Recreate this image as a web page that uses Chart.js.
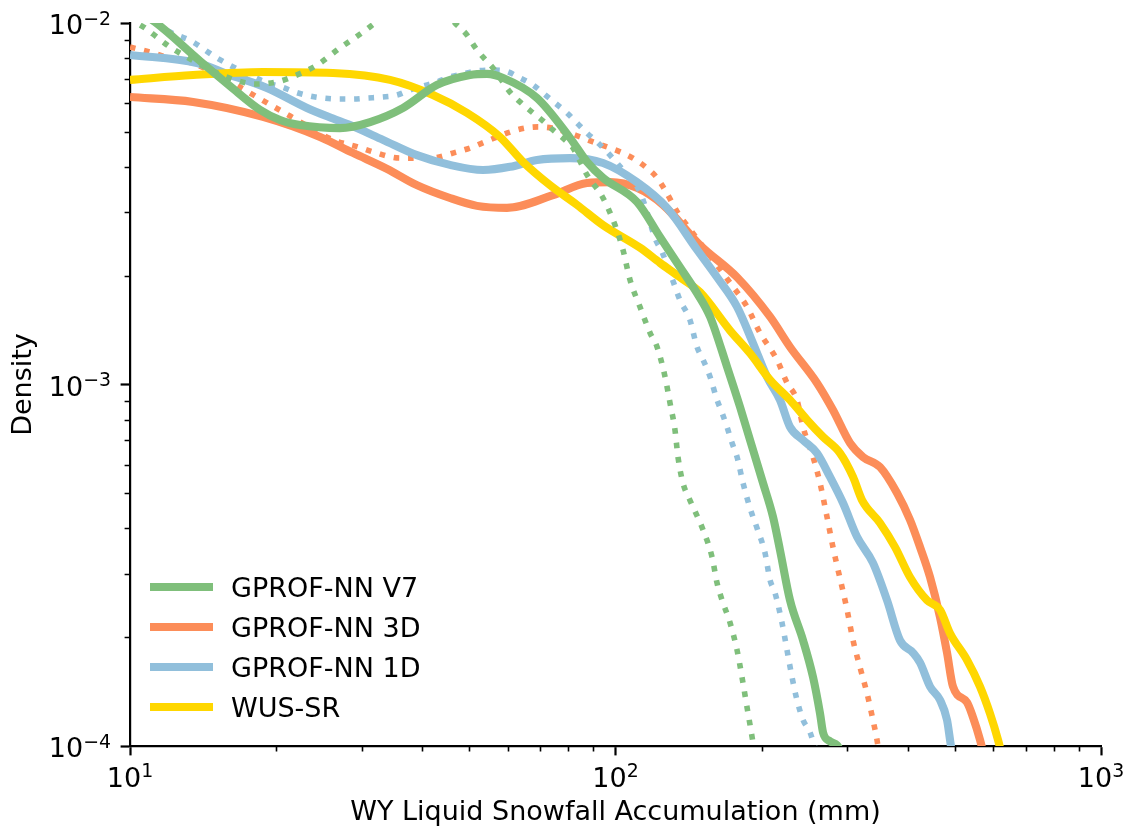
<!DOCTYPE html>
<html>
<head>
<meta charset="utf-8">
<script src="https://cdn.jsdelivr.net/npm/chart.js@4.4.1/dist/chart.umd.min.js"></script>
<style>
  html, body { margin: 0; padding: 0; background: #ffffff; }
  #plot { display: block; }
</style>
</head>
<body>
<canvas id="plot" width="1126" height="829"></canvas>
<script>
// Water-year liquid snowfall accumulation (mm) vs. kernel density estimate.
// Solid lines: all-season products; dotted lines: companion estimates of the same product.

const v7Accum = [10.0, 11.26, 13.94, 16.07, 18.53, 20.37, 22.39, 27.07, 31.22, 36.50, 42.89, 50.15, 54.36, 58.65, 68.92, 80.59, 87.36, 94.26, 110.7, 123.5, 135.8, 147.2, 156.6, 169.7, 180.5, 189.3, 201.3, 211.1, 218.2, 228.8, 243.4, 255.2, 263.8, 267.6, 276.6, 285.9, 297.0];
const v7Density = [0.01114, 0.01006, 0.00785, 0.00669, 0.00575, 0.00539, 0.00522, 0.00512, 0.00532, 0.00582, 0.00674, 0.00718, 0.00723, 0.00705, 0.00620, 0.00481, 0.00413, 0.00373, 0.00320, 0.00256, 0.00211, 0.00179, 0.00154, 0.00112, 8.67e-4, 7.02e-4, 5.34e-4, 4.30e-4, 3.48e-4, 2.53e-4, 1.96e-4, 1.55e-4, 1.23e-4, 1.09e-4, 1.03e-4, 1.006e-4, 0.915e-4];

const v7DotAccum = [10.0, 10.34, 10.74, 11.42, 12.09, 12.86, 14.96, 16.45, 18.09, 20.08, 21.56, 24.28, 27.07, 30.20, 31.96, 34.32, 38.64, 44.55, 46.70, 49.44, 51.35, 53.34, 55.93, 60.63, 63.56, 67.30, 70.57, 74.34, 78.70, 81.75, 87.36, 94.26, 99.77, 103.6, 107.1, 112.3, 117.8, 121.8, 126.5, 129.5, 132.6, 134.5, 137.7, 142.3, 151.5, 158.1, 161.9, 165.8, 172.2, 178.0, 182.2, 186.6, 191.1, 193.8];
const v7DotDensity = [0.01052, 0.0100, 0.00969, 0.00909, 0.00858, 0.00816, 0.00732, 0.00696, 0.00678, 0.00687, 0.00709, 0.00765, 0.00853, 0.00944, 0.0100, 0.01072, 0.0125, 0.01072, 0.0100, 0.00927, 0.00858, 0.00805, 0.00751, 0.00644, 0.00605, 0.00567, 0.00539, 0.00506, 0.00475, 0.00451, 0.00380, 0.00328, 0.00276, 0.00236, 0.00195, 0.00164, 0.00139, 0.00127, 0.00105, 8.89e-4, 7.48e-4, 6.30e-4, 5.34e-4, 4.79e-4, 3.96e-4, 3.33e-4, 2.82e-4, 2.53e-4, 2.19e-4, 1.84e-4, 1.55e-4, 1.28e-4, 1.06e-4, 0.944e-4];

const nn3dAccum = [10.0, 13.49, 18.79, 24.63, 28.80, 33.83, 38.99, 45.61, 51.84, 59.77, 74.34, 87.36, 97.43, 110.7, 125.3, 149.3, 178.0, 208.1, 228.8, 260.0, 280.5, 304.1, 323.5, 350.6, 380.1, 404.3, 423.9, 444.5, 466.1, 481.8, 495.6, 529.7, 545.0, 563.4, 576.9];
const nn3dDensity = [0.00624, 0.00605, 0.00550, 0.00484, 0.00437, 0.00395, 0.00356, 0.00328, 0.00312, 0.00308, 0.00334, 0.00361, 0.00363, 0.00350, 0.00314, 0.00243, 0.00198, 0.00154, 0.00127, 0.00101, 8.50e-4, 6.89e-4, 6.30e-4, 5.91e-4, 5.01e-4, 4.22e-4, 3.55e-4, 2.93e-4, 2.27e-4, 1.81e-4, 1.46e-4, 1.32e-4, 1.20e-4, 1.04e-4, 0.915e-4];

const nn3dDotAccum = [10.0, 11.0, 11.70, 12.56, 13.42, 16.30, 17.09, 21.36, 26.19, 29.49, 31.66, 35.98, 41.49, 47.15, 50.15, 53.84, 60.63, 65.09, 69.25, 73.99, 79.45, 84.51, 89.89, 96.05, 102.2, 108.6, 116.1, 121.8, 126.5, 134.5, 142.3, 158.8, 172.2, 186.6, 198.4, 215.1, 225.6, 236.5, 243.4, 255.2, 263.8, 272.7, 280.5, 299.9, 308.5, 318.9, 329.6, 339.1, 345.6, 350.6];
const nn3dDotDensity = [0.00858, 0.00831, 0.00810, 0.00790, 0.00775, 0.00682, 0.00657, 0.00553, 0.00475, 0.00454, 0.00440, 0.00423, 0.00423, 0.00440, 0.00451, 0.00469, 0.00499, 0.00512, 0.00516, 0.00512, 0.00499, 0.00484, 0.00469, 0.00454, 0.00440, 0.00423, 0.00397, 0.00373, 0.00345, 0.00298, 0.00269, 0.00221, 0.00191, 0.00164, 0.00139, 0.00117, 0.00101, 9.06e-4, 7.63e-4, 6.30e-4, 5.34e-4, 4.30e-4, 3.55e-4, 2.38e-4, 1.96e-4, 1.65e-4, 1.40e-4, 1.18e-4, 1.04e-4, 0.915e-4];

const nn1dAccum = [10.0, 13.74, 16.07, 19.15, 23.15, 26.19, 28.39, 33.19, 38.99, 45.61, 53.34, 60.63, 68.92, 80.59, 94.26, 110.7, 127.7, 147.2, 161.9, 178.0, 192.0, 205.1, 218.2, 228.8, 243.4, 260.0, 276.6, 294.2, 314.4, 339.1, 362.5, 385.5, 410.1, 423.9, 444.5, 466.1, 481.8, 488.7, 495.6];
const nn1dDensity = [0.00816, 0.00775, 0.00718, 0.00661, 0.00582, 0.00544, 0.00522, 0.00475, 0.00431, 0.00405, 0.00392, 0.00400, 0.00418, 0.00423, 0.00410, 0.00363, 0.00308, 0.00236, 0.00198, 0.00164, 0.00130, 0.00105, 9.06e-4, 7.63e-4, 7.02e-4, 6.46e-4, 5.55e-4, 4.70e-4, 3.79e-4, 3.21e-4, 2.53e-4, 1.96e-4, 1.81e-4, 1.70e-4, 1.46e-4, 1.34e-4, 1.18e-4, 1.04e-4, 0.915e-4];

const nn1dDotAccum = [10.0, 11.0, 12.09, 13.49, 14.27, 15.11, 19.24, 20.56, 21.87, 23.49, 24.98, 26.82, 28.80, 30.78, 33.04, 35.48, 37.73, 40.13, 42.89, 45.61, 48.51, 51.84, 55.66, 59.20, 63.56, 67.62, 70.90, 75.05, 79.45, 83.31, 87.36, 92.05, 96.05, 100.7, 105.6, 112.3, 116.1, 120.6, 124.6, 130.7, 135.8, 142.3, 147.2, 151.5, 156.6, 161.9, 165.8, 169.7, 173.8, 178.0, 183.1, 189.3, 195.6, 203.2, 208.1, 213.1, 220.3, 225.6, 231.0, 236.5, 243.4, 251.6, 257.6, 263.8];
const nn1dDotDensity = [0.01086, 0.01019, 0.00944, 0.00886, 0.00842, 0.00800, 0.00682, 0.00665, 0.00644, 0.00628, 0.00620, 0.00616, 0.00616, 0.00620, 0.00624, 0.00632, 0.00653, 0.00669, 0.00687, 0.00709, 0.00723, 0.00737, 0.00741, 0.00737, 0.00705, 0.00674, 0.00640, 0.00601, 0.00564, 0.00529, 0.00496, 0.00466, 0.00440, 0.00410, 0.00380, 0.00341, 0.00300, 0.00254, 0.00233, 0.00197, 0.00171, 0.00151, 0.00127, 0.00117, 0.00105, 9.06e-4, 8.34e-4, 7.63e-4, 6.89e-4, 6.30e-4, 5.34e-4, 4.55e-4, 4.01e-4, 3.42e-4, 2.88e-4, 2.65e-4, 2.19e-4, 1.84e-4, 1.55e-4, 1.34e-4, 1.18e-4, 1.09e-4, 0.99e-4, 0.915e-4];

const wusAccum = [10.0, 13.49, 18.79, 26.19, 34.32, 42.08, 49.44, 57.82, 64.47, 73.30, 83.31, 94.26, 112.3, 123.5, 135.8, 149.3, 172.2, 189.3, 208.1, 228.8, 248.1, 267.6, 290.0, 308.5, 321.9, 350.6, 376.5, 404.3, 438.2, 466.1, 488.7, 529.7, 563.4, 590.7, 613.6, 628.3];
const wusDensity = [0.00696, 0.00718, 0.00732, 0.00727, 0.00696, 0.00632, 0.00564, 0.00484, 0.00413, 0.00356, 0.00314, 0.00276, 0.00239, 0.00217, 0.00198, 0.00180, 0.00141, 0.00122, 0.00103, 9.06e-4, 7.98e-4, 7.16e-4, 6.46e-4, 5.55e-4, 4.79e-4, 4.14e-4, 3.55e-4, 2.93e-4, 2.53e-4, 2.38e-4, 2.05e-4, 1.73e-4, 1.46e-4, 1.23e-4, 1.04e-4, 0.915e-4];

const seriesLabels = ['GPROF-NN V7', 'GPROF-NN 3D', 'GPROF-NN 1D', 'WUS-SR'];
const xTickExponents = [1, 2, 3];
const yTickExponents = [-4, -3, -2];
const xAxisTitle = 'WY Liquid Snowfall Accumulation (mm)';
const yAxisTitle = 'Density';

const FONT = '"DejaVu Sans", "Liberation Sans", sans-serif';
const FONT_SIZE = 27;
const GREEN = '#7fbf7b';
const ORANGE = '#fc8d59';
const BLUE = '#91bfdb';
const GOLD = '#ffd700';

function toPoints(xs, ys) {
  return xs.map((x, i) => ({ x: x, y: ys[i] }));
}

function lineSet(label, color, xs, ys, order, dotted, inLegend) {
  return {
    label: label,
    data: toPoints(xs, ys),
    borderColor: color,
    backgroundColor: color,
    borderWidth: dotted ? 5.6 : 8.1,
    borderDash: dotted ? [5.6, 8.8] : [],
    borderCapStyle: 'butt',
    borderJoinStyle: 'round',
    pointRadius: 0,
    pointHoverRadius: 0,
    fill: false,
    cubicInterpolationMode: 'monotone',
    clip: 0,
    order: order,
    inLegend: inLegend
  };
}

// Minor ticks, power-of-ten tick labels and the legend box.
const axisDecor = {
  id: 'axisDecor',
  afterDraw(chart) {
    const { ctx, chartArea: a } = chart;
    const xs = chart.scales.x, ys = chart.scales.y;
    ctx.save();

    // minor tick marks
    ctx.strokeStyle = '#000';
    ctx.lineWidth = 1.6;
    ctx.beginPath();
    for (let d = xTickExponents[0]; d < xTickExponents[xTickExponents.length - 1]; d++) {
      for (let m = 2; m <= 9; m++) {
        const px = Math.round(xs.getPixelForValue(m * Math.pow(10, d))) + 0.5;
        ctx.moveTo(px, a.bottom);
        ctx.lineTo(px, a.bottom + 5.4);
      }
    }
    for (let d = yTickExponents[0]; d < yTickExponents[yTickExponents.length - 1]; d++) {
      for (let m = 2; m <= 9; m++) {
        const py = Math.round(ys.getPixelForValue(m * Math.pow(10, d))) + 0.5;
        ctx.moveTo(a.left - 5.4, py);
        ctx.lineTo(a.left, py);
      }
    }
    ctx.stroke();

    // tick labels written as 10 with a raised exponent
    const baseFont = FONT_SIZE + 'px ' + FONT;
    const supFont = (FONT_SIZE * 0.7).toFixed(1) + 'px ' + FONT;
    const expText = e => (e < 0 ? '\u2212' : '') + Math.abs(e);
    ctx.fillStyle = '#000';
    ctx.textBaseline = 'alphabetic';
    ctx.textAlign = 'left';

    yTickExponents.forEach(e => {
      const py = ys.getPixelForValue(Math.pow(10, e));
      ctx.font = supFont;
      const we = ctx.measureText(expText(e)).width;
      ctx.font = baseFont;
      const wb = ctx.measureText('10').width;
      const right = a.left - 19;
      ctx.fillText('10', right - we - wb, py + 11);
      ctx.font = supFont;
      ctx.fillText(expText(e), right - we, py + 1.5);
    });

    xTickExponents.forEach(e => {
      const px = xs.getPixelForValue(Math.pow(10, e));
      ctx.font = supFont;
      const we = ctx.measureText(expText(e)).width;
      ctx.font = baseFont;
      const wb = ctx.measureText('10').width;
      const left = px - (wb + we) / 2;
      const base = a.bottom + 41;
      ctx.fillText('10', left, base);
      ctx.font = supFont;
      ctx.fillText(expText(e), left + wb, base - 10);
    });

    // legend
    const entries = chart.data.datasets.filter(ds => ds.inLegend);
    entries.sort((p, q) => seriesLabels.indexOf(p.label) - seriesLabels.indexOf(q.label));
    const lx0 = a.left + 20, lx1 = a.left + 83, tx = a.left + 101;
    const rowTop = a.bottom - 159, rowStep = 40;
    ctx.font = baseFont;
    entries.forEach((ds, i) => {
      const cy = rowTop + i * rowStep;
      ctx.strokeStyle = ds.borderColor;
      ctx.lineWidth = 8.1;
      ctx.setLineDash([]);
      ctx.lineCap = 'butt';
      ctx.beginPath();
      ctx.moveTo(lx0, cy);
      ctx.lineTo(lx1, cy);
      ctx.stroke();
      ctx.fillStyle = '#000';
      ctx.fillText(ds.label, tx, cy + 10);
    });
    ctx.restore();
  }
};

const datasets = [
  lineSet('GPROF-NN V7', GREEN, v7Accum, v7Density, 0, false, true),
  lineSet('GPROF-NN V7 (dotted)', GREEN, v7DotAccum, v7DotDensity, 1, true, false),
  lineSet('WUS-SR', GOLD, wusAccum, wusDensity, 2, false, true),
  lineSet('GPROF-NN 1D', BLUE, nn1dAccum, nn1dDensity, 3, false, true),
  lineSet('GPROF-NN 1D (dotted)', BLUE, nn1dDotAccum, nn1dDotDensity, 4, true, false),
  lineSet('GPROF-NN 3D (dotted)', ORANGE, nn3dDotAccum, nn3dDotDensity, 5, true, false),
  lineSet('GPROF-NN 3D', ORANGE, nn3dAccum, nn3dDensity, 6, false, true)
];

function majorTicks(exps) {
  return exps.map(e => ({ value: Math.pow(10, e), major: true }));
}

new Chart(document.getElementById('plot'), {
  type: 'line',
  data: { datasets: datasets },
  options: {
    responsive: false,
    animation: false,
    events: [],
    layout: { padding: { left: 0, right: 25, top: 23, bottom: 0 } },
    plugins: {
      legend: { display: false },
      tooltip: { enabled: false }
    },
    scales: {
      x: {
        type: 'logarithmic',
        position: 'bottom',
        min: 10,
        max: 1000,
        afterBuildTicks: s => { s.ticks = majorTicks(xTickExponents); },
        afterFit: s => { s.height = 83; },
        ticks: { display: false },
        grid: { display: true, drawOnChartArea: false, drawTicks: true, tickLength: 9.4, tickWidth: 2.2, tickColor: '#000' },
        border: { display: true, color: '#000', width: 2.2 },
        title: {
          display: true,
          text: xAxisTitle,
          color: '#000',
          font: { family: FONT, size: FONT_SIZE },
          padding: { top: 0, bottom: 0 }
        }
      },
      y: {
        type: 'logarithmic',
        position: 'left',
        min: 1e-4,
        max: 1e-2,
        afterBuildTicks: s => { s.ticks = majorTicks(yTickExponents); },
        afterFit: s => { s.width = 130; },
        ticks: { display: false },
        grid: { display: true, drawOnChartArea: false, drawTicks: true, tickLength: 9.4, tickWidth: 2.2, tickColor: '#000' },
        border: { display: true, color: '#000', width: 2.2 },
        title: {
          display: true,
          text: yAxisTitle,
          color: '#000',
          font: { family: FONT, size: FONT_SIZE },
          padding: { top: 8, bottom: 0 }
        }
      }
    }
  },
  plugins: [axisDecor]
});
</script>
</body>
</html>
